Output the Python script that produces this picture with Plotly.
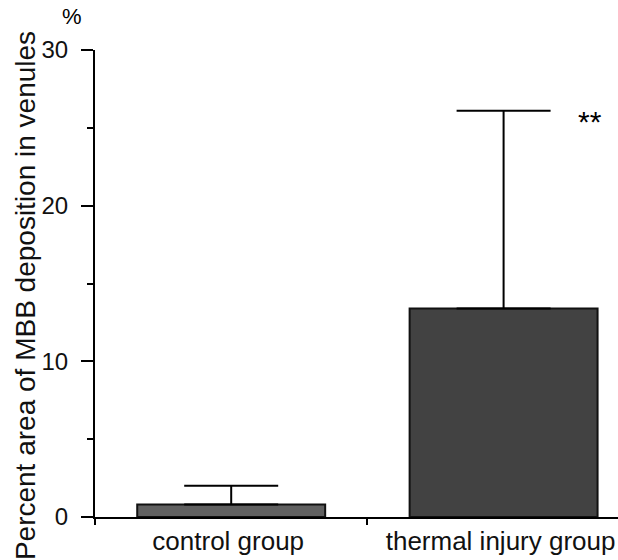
import plotly.graph_objects as go

categories = ["control group", "thermal injury group"]
means = [0.8, 13.4]
sd_plus = [1.2, 12.7]
sd_minus = [0, 0]
y_ticks = [0, 10, 20, 30]
bar_colors = ["#606060", "#424242"]

FONT = "Liberation Sans, Arial"

fig = go.Figure()
fig.add_trace(go.Bar(
    x=categories, y=means, width=0.69,
    marker=dict(color=bar_colors, line=dict(color="#111111", width=2)),
    error_y=dict(type="data", symmetric=False, array=sd_plus, arrayminus=sd_minus,
                 color="black", thickness=2, width=47),
    showlegend=False,
))

fig.add_annotation(x=categories[1], y=25.4, xshift=86, text="**", showarrow=False,
                   font=dict(family=FONT, size=30, color="black"),
                   xanchor="center", yanchor="middle")
fig.add_annotation(xref="paper", yref="paper", x=-0.044, y=1.0707, text="%", showarrow=False,
                   xanchor="center", yanchor="middle",
                   font=dict(family=FONT, size=22, color="black"))
fig.add_annotation(xref="paper", yref="paper", x=-0.134, y=0.475, textangle=-90,
                   xanchor="center", yanchor="middle",
                   text="Percent area of MBB deposition in venules", showarrow=False,
                   font=dict(family=FONT, size=28, color="#111111"))

fig.update_layout(
    width=618, height=560,
    margin=dict(l=95, r=0, t=50, b=43),
    plot_bgcolor="white", paper_bgcolor="white",
    font=dict(family=FONT, color="#111111"),
    xaxis=dict(range=[-0.5, 1.42], showline=True, linecolor="black", linewidth=2,
               ticks="outside", tickson="boundaries", ticklen=6, tickwidth=2, tickcolor="black",
               ticklabelshift=-3,
               showgrid=False, zeroline=False, tickfont=dict(size=26)),
    yaxis=dict(range=[0, 30], tickvals=y_ticks, showline=True, linecolor="black", linewidth=2,
               ticks="outside", ticklen=12, tickwidth=2, tickcolor="black",
               ticklabelstandoff=8,
               minor=dict(dtick=5, ticks="outside", ticklen=6, tickwidth=2, tickcolor="black"),
               showgrid=False, zeroline=False, tickfont=dict(size=24)),
)

fig.write_html("out.html", config={"displayModeBar": False},
               post_script="document.body.style.margin='0';document.body.style.overflow='hidden';")
